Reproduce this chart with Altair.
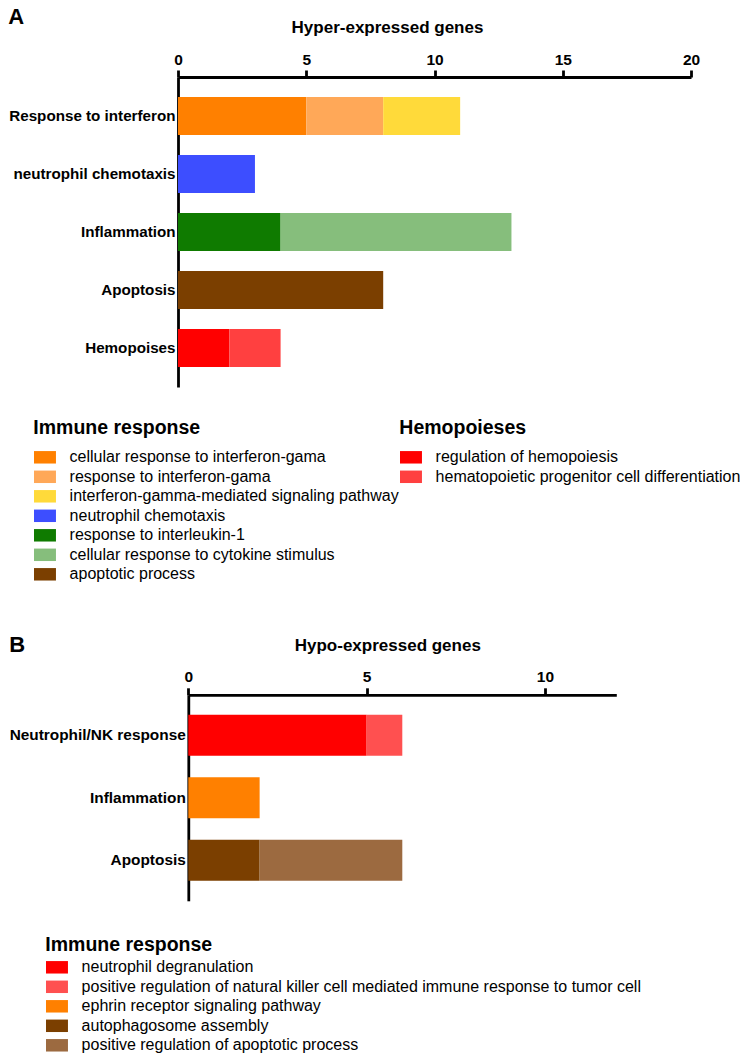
import altair as alt
import pandas as pd

FONT = "Liberation Sans, Arial, sans-serif"

# ---------------- Panel A data ----------------
a_categories = ["Response to interferon", "neutrophil chemotaxis", "Inflammation", "Apoptosis", "Hemopoises"]
a_immune_terms = [
    "cellular response to interferon-gama",
    "response to interferon-gama",
    "interferon-gamma-mediated signaling pathway",
    "neutrophil chemotaxis",
    "response to interleukin-1",
    "cellular response to cytokine stimulus",
    "apoptotic process",
]
a_immune_category = ["Response to interferon", "Response to interferon", "Response to interferon",
                     "neutrophil chemotaxis", "Inflammation", "Inflammation", "Apoptosis"]
a_immune_counts = [5, 3, 3, 3, 4, 9, 8]
a_immune_colors = ["#FF8000", "#FFA858", "#FFDA3A", "#3D4EFF", "#0F7B00", "#86BE7C", "#7B3F00"]

a_hemo_terms = ["regulation of hemopoiesis", "hematopoietic progenitor cell differentiation"]
a_hemo_category = ["Hemopoises", "Hemopoises"]
a_hemo_counts = [2, 2]
a_hemo_colors = ["#FF0000", "#FF4040"]
a_ticks = [0, 5, 10, 15, 20]

# ---------------- Panel B data ----------------
b_categories = ["Neutrophil/NK response", "Inflammation", "Apoptosis"]
b_terms = [
    "neutrophil degranulation",
    "positive regulation of natural killer cell mediated immune response to tumor cell",
    "ephrin receptor signaling pathway",
    "autophagosome assembly",
    "positive regulation of apoptotic process",
]
b_category = ["Neutrophil/NK response", "Neutrophil/NK response", "Inflammation", "Apoptosis", "Apoptosis"]
b_counts = [5, 1, 2, 2, 4]
b_colors = ["#FF0000", "#FF5050", "#FF8000", "#7B3F00", "#9C6A40"]
b_ticks = [0, 5, 10]


def stacked(terms, cats, counts):
    df = pd.DataFrame({"term": terms, "category": cats, "count": counts})
    df["end"] = df.groupby("category")["count"].cumsum()
    df["start"] = df["end"] - df["count"]
    return df


df_a_imm = stacked(a_immune_terms, a_immune_category, a_immune_counts)
df_a_hemo = stacked(a_hemo_terms, a_hemo_category, a_hemo_counts)
df_b = stacked(b_terms, b_category, b_counts)

SYMBOL = "M-1,-0.85H2V0.85H-1Z"
SYM_SIZE = 215
B_SHIFT = 10.3  # panel B's zero sits right of panel A's zero


def x_axis(title, values, title_x):
    return alt.Axis(orient="top", values=values, title=title, grid=False,
                    titleFont=FONT, titleFontSize=17, titleFontWeight="bold", titleColor="black",
                    titleY=-49.5, titleBaseline="middle", titleX=title_x, titleAlign="center", titleAnchor="start",
                    labelFont=FONT, labelFontSize=15.5, labelFontWeight="bold", labelColor="black",
                    labelPadding=3, labelFlush=False,
                    tickSize=7, tickWidth=2.8, tickColor="black",
                    domainColor="black", domainWidth=2.8)


def y_axis(fs, offset=0):
    return alt.Axis(title=None, ticks=False, tickSize=0, grid=False, offset=offset,
                    labelFont=FONT, labelFontSize=fs, labelFontWeight="bold", labelColor="black",
                    labelPadding=3, labelLimit=400, minExtent=169.7 + offset,
                    domainColor="black", domainWidth=2.8)


def legend(title, lx, ly, tpad):
    return alt.Legend(title=title, orient="none", legendX=lx, legendY=ly, padding=0,
                      titleFont=FONT, titleFontSize=19.5, titleFontWeight="bold", titleColor="black",
                      titlePadding=tpad, titleLimit=600,
                      labelFont=FONT, labelFontSize=16.0, labelColor="black", labelLimit=800,
                      labelOffset=20.3, rowPadding=3.5,
                      symbolType=SYMBOL, symbolSize=SYM_SIZE, symbolStrokeWidth=0, symbolOpacity=1)


def bars(df, cats, xscale, axis_x, yscale, axis_y, terms, colors, leg):
    return alt.Chart(df).mark_bar(opacity=1).encode(
        x=alt.X("start:Q", scale=xscale, axis=axis_x),
        x2="end:Q",
        y=alt.Y("category:N", sort=cats, scale=yscale, axis=axis_y),
        color=alt.Color("term:N", scale=alt.Scale(domain=terms, range=colors), legend=leg),
    )


# ---------------- Panel A ----------------
xs_a = alt.Scale(domain=[0, 20], nice=False, zero=True)
ys_a = alt.Scale(domain=a_categories, paddingInner=0.345, paddingOuter=0.345)
ax_a = x_axis("Hyper-expressed genes", a_ticks, 209)

layer_a1 = bars(df_a_imm, a_categories, xs_a, ax_a, ys_a, y_axis(15.2), a_immune_terms, a_immune_colors,
                legend("Immune response", -144.7, 341.5, 11.3))
layer_a2 = bars(df_a_hemo, a_categories, xs_a, ax_a, ys_a, y_axis(15.2), a_hemo_terms, a_hemo_colors,
                legend("Hemopoieses", 221.3, 341.5, 11.3))

panel_a = alt.layer(layer_a1, layer_a2).resolve_scale(color="independent").properties(
    width=513, height=310,
    title=alt.TitleParams("A", anchor="start", frame="bounds", font=FONT, fontSize=22,
                          fontWeight="bold", color="black", offset=-10),
)

# ---------------- Panel B ----------------
xs_b = alt.Scale(domain=[0, 12], nice=False, zero=True, range=[B_SHIFT, B_SHIFT + 428])
ys_b = alt.Scale(domain=b_categories, paddingInner=0.344, paddingOuter=0.32)
ax_b = x_axis("Hypo-expressed genes", b_ticks, 209.3)
panel_b = bars(df_b, b_categories, xs_b, ax_b, ys_b, y_axis(15.4, -B_SHIFT), b_terms, b_colors,
               legend("Immune response", -132.7, 241.2, 3.8)).properties(
    width=428 + B_SHIFT, height=206,
    title=alt.TitleParams("B", anchor="start", frame="bounds", font=FONT, fontSize=22,
                          fontWeight="bold", color="black", offset=-21),
)

chart = alt.concat(panel_a, panel_b, columns=1, spacing=50.8).resolve_scale(
    color="independent", x="independent", y="independent"
).properties(
    padding={"left": 0, "top": -3, "right": 0, "bottom": 0}
).configure_view(strokeWidth=0)

chart.save("out.html", embed_options={"renderer": "svg", "actions": False})
